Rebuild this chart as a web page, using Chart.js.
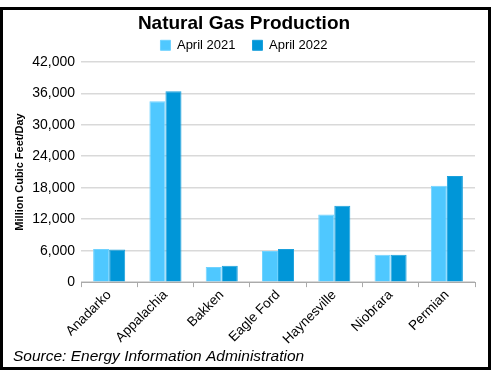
<!DOCTYPE html>
<html>
<head>
<meta charset="utf-8">
<script src="https://cdn.jsdelivr.net/npm/chart.js@4/dist/chart.umd.min.js"></script>
<style>
  body { margin: 0; background: #fff; }
  #box {
    position: absolute; left: 0; top: 7px;
    width: 485px; height: 357px;
    border: 3px solid #000;
    background: #fff;
  }
</style>
</head>
<body>
<div id="box"><canvas id="gasChart" width="485" height="357"></canvas></div>
<script>
// Dữ liệu
const REGIONS = ['Anadarko', 'Appalachia', 'Bakken', 'Eagle Ford', 'Haynesville', 'Niobrara', 'Permian'];
const APRIL_2021 = [6300, 34500, 2900, 5950, 12900, 5200, 18350];
const APRIL_2022 = [6200, 36400, 3100, 6300, 14550, 5200, 20250];
const SERIES_LABELS = ['April 2021', 'April 2022'];
const Y_TICKS = [0, 6000, 12000, 18000, 24000, 30000, 36000, 42000];

const FONT = 'Arial, "Liberation Sans", sans-serif';

const CTX = document.getElementById('gasChart');
new Chart(CTX, {
    type: 'bar',
    data: {
        labels: REGIONS,
        datasets: [{
            label: SERIES_LABELS[0],
            data: APRIL_2021,
            backgroundColor: '#4fc8ff',
            borderColor: '#6fd2ff',
            borderWidth: 1
        }, {
            label: SERIES_LABELS[1],
            data: APRIL_2022,
            backgroundColor: '#0096d8',
            borderColor: '#1aa0dc',
            borderWidth: 1
        }]
    },
    options: {
        responsive: false,
        animation: false,
        datasets: {
            bar: { barPercentage: 1, categoryPercentage: 0.57 }
        },
        layout: { padding: { left: 10, right: 13, top: 0, bottom: 0 } },
        plugins: {
            title: {
                display: true,
                text: 'Natural Gas Production',
                color: '#000',
                font: { family: FONT, size: 19, weight: 'bold' },
                padding: { top: 2, bottom: -13 }
            },
            legend: {
                labels: {
                    color: '#000',
                    font: { family: FONT, size: 13 },
                    boxWidth: 10,
                    boxHeight: 10,
                    padding: 17
                }
            },
            subtitle: {
                display: true,
                position: 'bottom',
                align: 'start',
                text: 'Source: Energy Information Administration',
                color: '#000',
                font: { family: FONT, size: 15.5, style: 'italic' },
                padding: { top: 0, bottom: 1 }
            },
            tooltip: { enabled: false }
        },
        scales: {
            x: {
                grid: { display: true, offset: true, drawOnChartArea: false, tickLength: 5, color: '#aaa' },
                border: { color: '#aaa' },
                ticks: {
                    color: '#000',
                    font: { family: FONT, size: 13.5 },
                    maxRotation: 45,
                    minRotation: 45,
                    padding: 0
                }
            },
            y: {
                min: 0,
                max: 42000,
                afterBuildTicks: axis => {
                    axis.ticks = Y_TICKS.map(v => ({ value: v }));
                },
                grid: { color: '#d9d9d9', drawTicks: false, lineWidth: 1.5 },
                border: { display: false },
                ticks: {
                    color: '#000',
                    font: { family: FONT, size: 14 },
                    padding: 6,
                    callback: v => v.toLocaleString('en-US')
                },
                title: {
                    display: true,
                    text: 'Million Cubic Feet/Day',
                    color: '#000',
                    font: { family: FONT, size: 11, weight: 'bold' },
                    padding: { top: 0, bottom: 0 }
                }
            }
        }
    }
});
</script>
</body>
</html>
